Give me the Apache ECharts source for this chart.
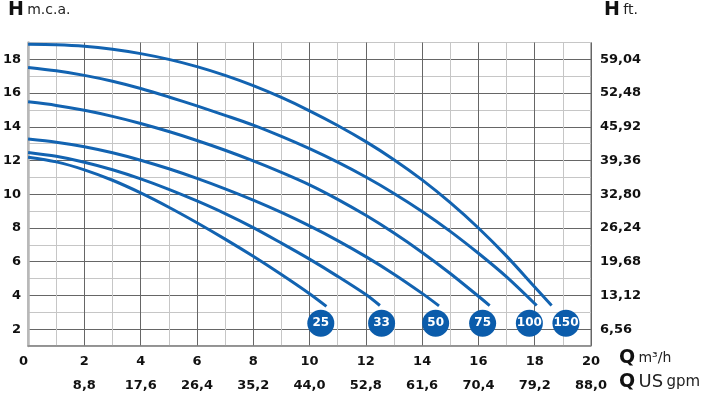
<!DOCTYPE html>
<html>
<head>
<meta charset="utf-8">
<script src="https://cdn.jsdelivr.net/npm/echarts@6/dist/echarts.min.js"></script>
<style>
html, body { margin: 0; padding: 0; background: #fff; }
#chart { width: 712px; height: 400px; }
</style>
</head>
<body>
<div id="chart"></div>
<script>
// pump curves: Q in m3/h, H in m.c.a.
const pumpNames = ['25', '33', '50', '75', '100', '150'];

const q25 = [0, 1, 2, 3, 4, 5, 6, 7, 8, 9, 10, 10.6];
const h25 = [12.2, 11.92, 11.45, 10.83, 10.08, 9.23, 8.31, 7.34, 6.32, 5.24, 4.1, 3.35];

const q33 = [0, 1, 2, 3, 4, 5, 6, 7, 8, 9, 10, 11, 12, 12.5];
const h33 = [12.48, 12.25, 11.9, 11.45, 10.91, 10.29, 9.6, 8.85, 8.02, 7.1, 6.15, 5.13, 4.05, 3.4];

const q50 = [0, 1, 2, 3, 4, 5, 6, 7, 8, 9, 10, 11, 12, 13, 14, 14.6];
const h50 = [13.27, 13.09, 12.82, 12.46, 12.02, 11.51, 10.94, 10.32, 9.65, 8.92, 8.12, 7.25, 6.3, 5.26, 4.12, 3.38];

const q75 = [0, 1, 2, 3, 4, 5, 6, 7, 8, 9, 10, 11, 12, 13, 14, 15, 16, 16.4];
const h75 = [15.48, 15.27, 14.98, 14.62, 14.2, 13.72, 13.19, 12.61, 11.98, 11.3, 10.56, 9.7, 8.75, 7.7, 6.55, 5.3, 3.95, 3.4];

const q100 = [0, 1, 2, 3, 4, 5, 6, 7, 8, 9, 10, 11, 12, 13, 14, 15, 16, 17, 18.07];
const h100 = [17.52, 17.32, 17.05, 16.7, 16.27, 15.77, 15.24, 14.68, 14.1, 13.43, 12.7, 11.9, 11.02, 10.05, 8.98, 7.8, 6.5, 5.1, 3.4];

const q150 = [0, 1, 2, 3, 4, 5, 6, 7, 8, 9, 10, 11, 12, 13, 14, 15, 16, 17, 18, 18.6];
const h150 = [18.9, 18.87, 18.78, 18.6, 18.34, 18.0, 17.57, 17.05, 16.44, 15.74, 14.95, 14.08, 13.12, 12.05, 10.85, 9.5, 8.0, 6.33, 4.5, 3.4];

// badge positions under each curve end
const badgeQ = [10.4, 12.56, 14.48, 16.15, 17.81, 19.11];
const badgeH = [2.35, 2.35, 2.35, 2.35, 2.35, 2.35];

// unit conversions for the secondary axes
const FT_PER_M = 3.28;
const GPM_PER_M3H = 4.4;

const curveQ = [q25, q33, q50, q75, q100, q150];
const curveH = [h25, h33, h50, h75, h100, h150];

const lineColor = '#1263b1';
const badgeColor = '#0b5cab';
const labelFont = { fontFamily: 'DejaVu Sans', fontWeight: 'bold', fontSize: 13, color: '#111' };

const comma = (v, d) => v.toFixed(d).replace('.', ',');

const series = pumpNames.map((name, i) => ({
    name: name,
    type: 'line',
    data: curveQ[i].map((q, j) => [q, curveH[i][j]]),
    smooth: 0.3,
    showSymbol: false,
    lineStyle: { color: lineColor, width: 3 },
    z: 3
}));
series.push({
    name: 'badges',
    type: 'scatter',
    data: badgeQ.map((q, i) => [q, badgeH[i], pumpNames[i]]),
    symbolSize: 27,
    itemStyle: { color: badgeColor, opacity: 1 },
    label: {
        show: true,
        position: 'inside',
        formatter: p => p.value[2],
        color: '#fff',
        fontFamily: 'DejaVu Sans',
        fontWeight: 'bold',
        fontSize: 12
    },
    z: 4
});

// "H m.c.a." style headings
const heading = (left, top, parts) => ({
    type: 'text', left: left, top: top,
    style: {
        text: parts.map(p => '{' + p[0] + '|' + p[1] + '}').join(' '),
        rich: {
            big: { fontFamily: 'DejaVu Sans', fontWeight: 'bold', fontSize: 19, fill: '#111' },
            unit: { fontFamily: 'DejaVu Sans', fontSize: 14, fill: '#222' },
            us: { fontFamily: 'DejaVu Sans', fontSize: 18, fill: '#222' },
            gpm: { fontFamily: 'DejaVu Sans', fontSize: 15, fill: '#222' }
        }
    }
});

const option = {
    animation: false,
    backgroundColor: '#fff',
    grid: {
        left: 28, right: 121, top: 42.5, bottom: 54,
        show: true, borderColor: '#666', borderWidth: 1
    },
    xAxis: [
        {
            type: 'value', min: 0, max: 20, interval: 1,
            axisLine: { show: true, lineStyle: { color: '#888', width: 1.5 } },
            axisTick: { show: false },
            axisLabel: Object.assign({ margin: 9, alignMinLabel: 'right', formatter: v => (v % 2 === 0 ? String(v) : '') }, labelFont),
            splitLine: { show: true, lineStyle: { color: ['#666', '#c6c6c6'], width: 1 } }
        },
        {
            type: 'value', min: 0, max: 20, interval: 1,
            position: 'bottom', offset: 24,
            axisLine: { show: false },
            axisTick: { show: false },
            axisLabel: Object.assign({ margin: 9, formatter: v => (v > 0 && v % 2 === 0 ? comma(v * GPM_PER_M3H, 1) : '') }, labelFont),
            splitLine: { show: false }
        }
    ],
    yAxis: [
        {
            type: 'value', min: 1, max: 19, interval: 1,
            axisLine: { show: true, lineStyle: { color: '#777', width: 1 } },
            axisTick: { show: false },
            axisLabel: Object.assign({ margin: 7, formatter: v => (v % 2 === 0 ? String(v) : '') }, labelFont),
            splitLine: { show: true, lineStyle: { color: ['#c6c6c6', '#666'], width: 1 } }
        },
        {
            type: 'value', min: 1, max: 19, interval: 1,
            position: 'right',
            axisLine: { show: true, lineStyle: { color: '#b8b8b8', width: 2.5 } },
            axisTick: { show: false },
            axisLabel: Object.assign({ margin: 9, formatter: v => (v % 2 === 0 ? comma(v * FT_PER_M, 2) : '') }, labelFont),
            splitLine: { show: false }
        }
    ],
    graphic: [
        heading(8, 1, [['big', 'H'], ['unit', 'm.c.a.']]),
        heading(604, 1, [['big', 'H'], ['unit', 'ft.']]),
        heading(619, 349, [['big', 'Q'], ['unit', 'm³/h']]),
        heading(619, 373, [['big', 'Q'], ['us', 'US'], ['gpm', 'gpm']])
    ],
    series: series
};

const chart = echarts.init(document.getElementById('chart'));
chart.setOption(option);
</script>
</body>
</html>
